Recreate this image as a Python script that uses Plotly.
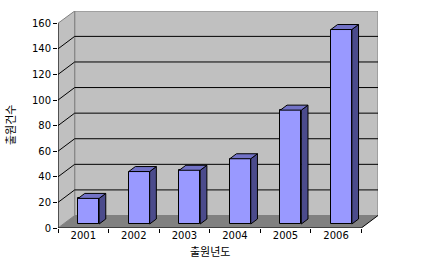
import plotly.graph_objects as go

years = ["2001", "2002", "2003", "2004", "2005", "2006"]
counts = [20, 41, 42, 51, 89, 152]
y_ticks = [0, 20, 40, 60, 80, 100, 120, 140, 160]
x_title = "출원년도"
y_title = "출원건수"

W, H = 444, 275
L, R, T, B = 58, 66, 11, 47
XMIN, XMAX = -0.5, 5.83
YMAX = 169.6
DX, DY = 0.33, 9.76          # depth vector of the box (data units)
BOFF = 0.32                  # bar front position within depth
BDEP = 0.40                  # bar depth fraction
BW = 0.415                   # bar front width

FRONT = "#9999FF"
SIDE = "#4B4B8C"
TOP = "#7272C6"

fig = go.Figure()
n = len(years)
xs = list(range(n))
ox, oy = BOFF * DX, BOFF * DY
ddx, ddy = BDEP * DX, BDEP * DY

# front faces
fig.add_trace(go.Bar(
    x=[i + ox for i in xs], y=counts, base=oy, width=BW,
    marker=dict(color=FRONT, line=dict(color="black", width=1)),
    showlegend=False, hoverinfo="skip"))

# side & top faces computed from the data
for i, v in zip(xs, counts):
    xl = i + ox - BW / 2
    xr = i + ox + BW / 2
    b = oy
    t = oy + v
    fig.add_trace(go.Scatter(
        x=[xr, xr + ddx, xr + ddx, xr, xr],
        y=[b, b + ddy, t + ddy, t, b],
        fill="toself", fillcolor=SIDE, mode="lines",
        line=dict(color="black", width=1), showlegend=False, hoverinfo="skip"))
    fig.add_trace(go.Scatter(
        x=[xl, xl + ddx, xr + ddx, xr, xl],
        y=[t, t + ddy, t + ddy, t, t],
        fill="toself", fillcolor=TOP, mode="lines",
        line=dict(color="black", width=1), showlegend=False, hoverinfo="skip"))

shapes = []
bx0 = XMIN + DX
# back wall
shapes.append(dict(type="rect", xref="x", yref="y", x0=bx0, x1=XMAX, y0=DY, y1=YMAX,
                   fillcolor="#C0C0C0", line=dict(color="#808080", width=1), layer="below"))
# left wall
shapes.append(dict(type="path", xref="x", yref="y",
                   path=f"M {XMIN},0 L {bx0},{DY} L {bx0},{YMAX} L {XMIN},{y_ticks[-1]} Z",
                   fillcolor="#C0C0C0", line=dict(color="#808080", width=1), layer="below"))
# floor
xf = XMIN + n
shapes.append(dict(type="path", xref="x", yref="y",
                   path=f"M {XMIN},0 L {xf},0 L {xf + DX},{DY} L {bx0},{DY} Z",
                   fillcolor="#808080", line=dict(width=0), layer="below"))
# gridlines on back wall and slants on left wall
for v in y_ticks[1:-1]:
    shapes.append(dict(type="line", xref="x", yref="y", x0=bx0, x1=XMAX, y0=v + DY, y1=v + DY,
                       line=dict(color="black", width=1), layer="below"))
    shapes.append(dict(type="line", xref="x", yref="y", x0=XMIN, x1=bx0, y0=v, y1=v + DY,
                       line=dict(color="black", width=1), layer="below"))
# front axes
shapes.append(dict(type="line", xref="x", yref="y", x0=XMIN, x1=XMIN, y0=0, y1=y_ticks[-1],
                   line=dict(color="black", width=1)))
shapes.append(dict(type="line", xref="x", yref="y", x0=XMIN, x1=xf, y0=0, y1=0,
                   line=dict(color="black", width=1)))
shapes.append(dict(type="line", xref="x", yref="y", x0=xf, x1=xf + DX, y0=0, y1=DY,
                   line=dict(color="black", width=1)))

fig.update_layout(
    width=W, height=H,
    margin=dict(l=L, r=R, t=T, b=B, pad=0),
    paper_bgcolor="white", plot_bgcolor="white",
    shapes=shapes, bargap=0,
    font=dict(family="DejaVu Sans", size=10, color="black"),
    xaxis=dict(range=[XMIN, XMAX], tickvals=xs, ticktext=years, ticks="",
               showgrid=False, zeroline=False, showline=False,
               minor=dict(tickvals=[i - 0.5 for i in range(n + 1)], ticks="outside",
                          ticklen=4, tickcolor="black", showgrid=False),
               tickfont=dict(size=10, color="black")),
    yaxis=dict(range=[0, YMAX], tickvals=y_ticks, ticks="outside", ticklen=4,
               tickcolor="black", showgrid=False, zeroline=False, showline=False,
               tickfont=dict(size=10, color="black")),
    annotations=[
        dict(text=x_title, xref="paper", yref="paper", x=(210 - L) / (W - L - R),
             y=(228 - 251) / (228 - T), showarrow=False, xanchor="center", yanchor="middle",
             font=dict(family="Noto Sans CJK KR", size=11, color="black")),
        dict(text=y_title, xref="paper", yref="paper", x=(10 - L) / (W - L - R),
             y=(228 - 125) / (228 - T), showarrow=False, textangle=-90,
             xanchor="center", yanchor="middle",
             font=dict(family="Noto Sans CJK KR", size=11, color="black")),
    ],
)

fig.write_html("out.html")
